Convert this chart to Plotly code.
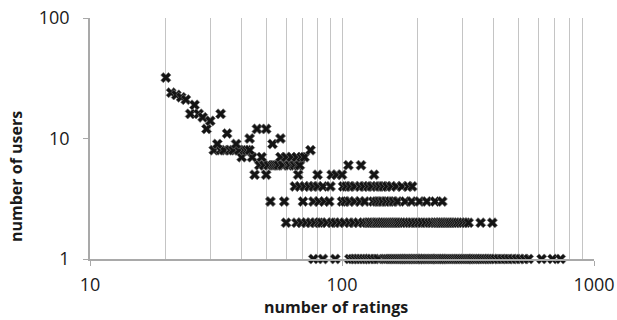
import plotly.graph_objects as go

# number of ratings for users, grouped by how many users share that count
ratings_1_user = [77, 84, 94,
                  107, 110, 113, 116, 119, 122, 125, 128, 131, 135, 139,
                  148, 151, 154, 157, 160, 163, 166, 169, 172, 175, 178, 181, 184, 187, 190,
                  193, 196, 199, 202, 205, 208, 212, 216, 220, 224, 228, 232, 236, 240, 244,
                  248, 252, 257, 262, 267, 272, 277, 282, 287, 292, 298, 304, 310, 316, 322,
                  328, 335, 342, 349, 356, 364, 372, 380, 388, 397, 406, 418, 432, 446, 460,
                  476, 493, 510, 530, 550, 620, 685, 737]
ratings_2_users = [60, 66, 69, 72, 75, 78, 81, 83, 87, 91, 94, 98, 102, 107, 111, 116, 121,
                   125, 128, 130, 133, 136, 138, 141, 144, 147, 150, 153, 156, 159, 162, 165,
                   168, 172, 176, 180, 185, 190, 196, 202, 208, 215, 222, 228, 234, 238, 242,
                   246, 250, 255, 260, 265, 270, 276, 282, 288, 295, 302, 310, 318, 355, 395]
ratings_3_users = [52, 59, 70, 77, 81, 85, 89, 100, 103, 107, 112, 118, 123, 133, 137, 141,
                   145, 150, 155, 160, 166, 178, 189, 203, 217, 234, 250]
ratings_4_users = [65, 68, 71, 74, 77, 80, 84, 90, 101, 104, 108, 112, 118, 122, 127, 131,
                   137, 141, 146, 151, 157, 164, 173, 183, 190]
ratings_5_users = [45, 50, 67, 80, 91, 95, 100, 134]
ratings_6_users = [47, 49, 51, 53, 54, 55, 56, 58, 61, 62, 64, 65, 67, 68, 106, 119]
ratings_7_users = [40, 44, 48, 57, 60, 63, 66, 69, 71]
ratings_8_users = [31, 33, 34, 36, 37, 39, 41, 42, 43, 75]
ratings_upper = [20, 21, 22, 23, 24, 25, 26, 27, 28, 29, 30, 32, 33, 35, 38, 43, 46, 50, 53, 57]
users_upper = [32, 24, 23, 22, 21, 16, 19, 16, 15, 12, 14, 9, 16, 11, 9, 10, 12, 12, 9, 10]

groups = [(1, ratings_1_user), (2, ratings_2_users), (3, ratings_3_users),
          (4, ratings_4_users), (5, ratings_5_users), (6, ratings_6_users),
          (7, ratings_7_users), (8, ratings_8_users)]

xs, ys = [], []
for level, vals in groups:
    xs += vals
    ys += [level] * len(vals)
xs += ratings_upper
ys += users_upper

x_major = [10, 100, 1000]
x_minor = [20, 30, 40, 50, 60, 70, 80, 90, 200, 300, 400, 500, 600, 700, 800, 900]
y_ticks = [1, 10, 100]

GRID = "#c4c4c4"
AXIS = "#a9a9a9"
FONT = "Open Sans"

W, H = 617, 320
ML, MR, MT, MB = 90, 23, 18, 61

fig = go.Figure()
fig.add_trace(go.Scatter(
    x=xs, y=ys, mode="markers", cliponaxis=False,
    marker=dict(symbol="x", size=9, color="#141414",
                line=dict(color="#6e6e6e", width=0.7)),
    showlegend=False,
))

pw = W - ML - MR
ph = H - MT - MB


def paper(px, py):
    return (px - ML) / pw, (H - MB - py) / ph


tx, ty = paper(336, 307)
yx, yy = paper(16, 177)

fig.update_layout(
    width=W, height=H,
    margin=dict(l=ML, r=MR, t=MT, b=MB, autoexpand=False),
    paper_bgcolor="white", plot_bgcolor="white",
    font=dict(family=FONT, color="#1a1a1a"),
    xaxis=dict(
        type="log", range=[1, 3], automargin=False,
        tickvals=x_major, ticktext=[str(v) for v in x_major],
        ticks="outside", ticklen=5, tickcolor=AXIS, tickwidth=1,
        showgrid=True, gridcolor=GRID, gridwidth=1.2,
        minor=dict(tickvals=x_minor, showgrid=True, gridcolor=GRID, gridwidth=1.2, ticks=""),
        showline=True, linecolor=AXIS, linewidth=1.5,
        tickfont=dict(size=18, family=FONT),
        ticklabelstandoff=4,
        zeroline=False,
    ),
    yaxis=dict(
        type="log", range=[0, 2], automargin=False,
        tickvals=y_ticks, ticktext=[str(v) for v in y_ticks],
        ticks="outside", ticklen=5, tickcolor=AXIS, tickwidth=1,
        showgrid=False,
        showline=True, linecolor=AXIS, linewidth=1.5,
        tickfont=dict(size=18, family=FONT),
        ticklabelstandoff=10,
        zeroline=False,
    ),
    annotations=[
        dict(text="<b>number of ratings</b>", x=tx, y=ty, xref="paper", yref="paper",
             xanchor="center", yanchor="middle", showarrow=False,
             font=dict(size=16, family=FONT)),
        dict(text="<b>number of users</b>", x=yx, y=yy, xref="paper", yref="paper",
             xanchor="center", yanchor="middle", textangle=-90, showarrow=False,
             font=dict(size=16, family=FONT)),
    ],
)

fig.write_html("out.html", config={"displayModeBar": False},
               post_script="document.body.style.margin='0';document.body.style.overflow='hidden';")
